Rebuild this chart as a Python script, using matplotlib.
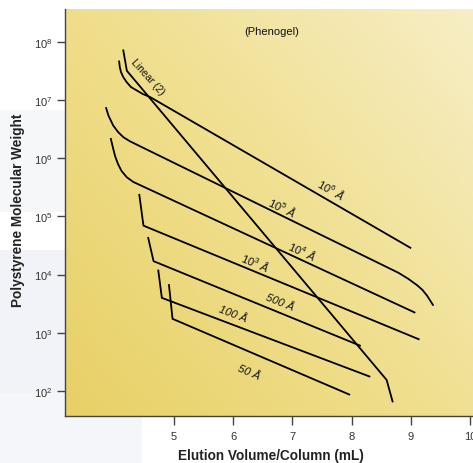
"""
Phenogel calibration curves: polystyrene MW vs elution volume per column
"""
import numpy as np
import matplotlib
matplotlib.use('Agg')
import matplotlib.pyplot as plt
from matplotlib.colors import LinearSegmentedColormap
from matplotlib.patches import Rectangle

plt.rcParams['font.family'] = ['Liberation Sans', 'DejaVu Sans']
plt.rcParams['mathtext.fontset'] = 'custom'
plt.rcParams['mathtext.rm'] = 'Liberation Sans'
plt.rcParams['mathtext.it'] = 'Liberation Sans:italic'

# ── calibration data (elution volume in mL, log10 of MW) ──────────
vol_1e6 = [4.08, 4.09, 4.11, 4.15, 4.21, 4.28, 4.38, 4.48, 4.60, 8.99]
lmw_1e6 = [7.66, 7.57, 7.48, 7.39, 7.30, 7.22, 7.16, 7.10, 7.05, 4.46]

vol_1e5 = [3.86, 3.90, 3.98, 4.06, 4.15, 4.26, 4.40, 8.79, 8.95, 9.10, 9.19, 9.27, 9.37]
lmw_1e5 = [6.86, 6.73, 6.56, 6.45, 6.36, 6.29, 6.22, 4.03, 3.93, 3.82, 3.74, 3.64, 3.48]

vol_1e4 = [3.94, 3.98, 4.01, 4.06, 4.12, 4.21, 4.32, 9.06]
lmw_1e4 = [6.33, 6.16, 6.04, 5.90, 5.78, 5.67, 5.59, 3.35]

vol_1e3 = [4.42, 4.49, 9.13]
lmw_1e3 = [5.37, 4.84, 2.89]

vol_500 = [4.57, 4.66, 8.14]
lmw_500 = [4.63, 4.23, 2.78]

vol_100 = [4.74, 4.80, 8.30]
lmw_100 = [4.07, 3.60, 2.25]

vol_50 = [4.92, 4.98, 7.96]
lmw_50 = [3.82, 3.24, 1.94]

vol_lin = [4.15, 4.21, 8.59, 8.69]
lmw_lin = [7.85, 7.50, 2.19, 1.82]

# curve labels: text, x, log10 y, rotation
labels = [
    (r'$\mathit{10^6}$ Å', 7.66, 5.49, -30),
    (r'$\mathit{10^5}$ Å', 6.83, 5.18, -26),
    (r'$\mathit{10^4}$ Å', 7.16, 4.42, -25),
    (r'$\mathit{10^3}$ Å', 6.37, 4.23, -23),
    ('500 Å', 6.78, 3.53, -22),
    ('100 Å', 6.00, 3.33, -21),
    ('50 Å', 6.26, 2.33, -23),
]
x_ticks = [5, 6, 7, 8, 9, 10]
y_exps = [2, 3, 4, 5, 6, 7, 8]

fig = plt.figure(figsize=(4.73, 4.64), dpi=100)
fig.patch.set_facecolor('white')

# faint grey patches in the left margin
for (x0, y0, w, h, c) in [(0, 0, 0.18, 0.46, '#f2f3f8'),
                          (0, 0, 0.30, 0.15, '#f5f6f9'),
                          (0, 0.54, 0.18, 0.22, '#f6f7f9')]:
    fig.patches.append(Rectangle((x0, y0), w, h, transform=fig.transFigure,
                                 facecolor=c, edgecolor='none', zorder=-1))

ax = fig.add_axes([65/473, 1 - 417/464, 1 - 65/473, 407/464])
ax.set_yscale('log')
ax.set_xlim(3.167, 10.046)
ax.set_ylim(10**1.571, 10**8.561)

# diagonal yellow gradient background
cmap = LinearSegmentedColormap.from_list('bg', ['#e8d066', '#f0df8e', '#f7eec6'])
u, v = np.meshgrid(np.linspace(0, 1, 200), np.linspace(0, 1, 200))
ax.imshow(0.55*u + 0.45*v, cmap=cmap, extent=[0, 1, 0, 1], origin='lower',
          transform=ax.transAxes, aspect='auto', zorder=0)

series = [(vol_1e6, lmw_1e6), (vol_1e5, lmw_1e5), (vol_1e4, lmw_1e4),
          (vol_1e3, lmw_1e3), (vol_500, lmw_500), (vol_100, lmw_100),
          (vol_50, lmw_50), (vol_lin, lmw_lin)]
for vx, ly in series:
    ax.plot(vx, 10**np.array(ly), color='black', lw=1.3, zorder=2,
            solid_joinstyle='round')

for txt, x, ly, rot in labels:
    ax.text(x, 10**ly, txt, fontsize=8, style='italic', rotation=rot,
            ha='center', va='center', color='#111111', zorder=3)
ax.text(4.555, 10**7.41, 'Linear (2)', fontsize=7.5, rotation=-48,
        ha='center', va='center', color='#111111', zorder=3)
ax.text(6.65, 10**8.19, '(Phenogel)', fontsize=8, ha='center', va='center',
        color='#111111', zorder=3)

ax.set_xticks(x_ticks)
ax.set_xticklabels([str(t) for t in x_ticks])
ax.set_yticks([10.0**e for e in y_exps])
ax.set_yticklabels([rf'$10^{{{e}}}$' for e in y_exps])
ax.minorticks_off()
ax.tick_params(axis='y', length=6, width=1, color='#444444', labelsize=8,
               labelcolor='#333333', pad=3)
ax.tick_params(axis='x', length=6.5, width=1, color='#444444', labelsize=8,
               labelcolor='#333333', pad=4)

for s in ['top', 'right']:
    ax.spines[s].set_visible(False)
for s in ['left', 'bottom']:
    ax.spines[s].set_color('#444444')
    ax.spines[s].set_linewidth(1)

lab_font = dict(fontweight='bold', fontsize=9.8, color='#222222')
fig.text(271/473, 1 - 456/464, 'Elution Volume/Column (mL)', ha='center',
         va='center', **lab_font)
fig.text(18/473, 1 - 210/464, 'Polystyrene Molecular Weight', ha='center',
         va='center', rotation=90, **lab_font)

fig.savefig('out.png', dpi=100, facecolor='white')
